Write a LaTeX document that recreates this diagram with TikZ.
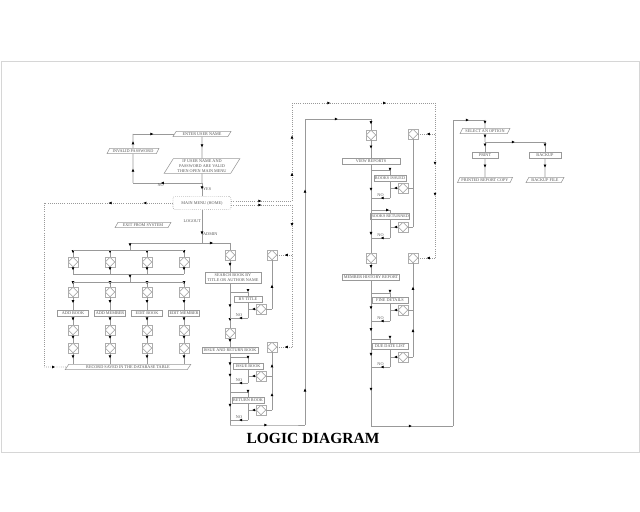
\documentclass[tikz,border=0pt]{standalone}
\usepackage{fontspec}
\setmainfont{Liberation Serif}
\usepackage{tikz}
\usetikzlibrary{arrows.meta,positioning,shapes.geometric,decorations.markings}
\definecolor{linegray}{HTML}{999999}
\definecolor{framegray}{HTML}{D6D6D6}
\definecolor{textgray}{HTML}{555555}
\newcommand{\diagfont}{\fontsize{3}{3.5}\selectfont}

\begin{document}
\begin{tikzpicture}[x=0.025cm, y=-0.025cm,
  ln/.style={draw=linegray, line width=0.45pt},
  dln/.style={draw=linegray, line width=0.5pt, densely dotted},
  mid/.style={postaction={decorate, decoration={markings, mark=at position #1 with {\arrow[black]{Latex[length=2.3pt, width=2.1pt]}}}}},
  mid/.default=0.5,
  lbl/.style={font=\diagfont, text=textgray, inner sep=0.6pt},
  proc/.style={draw=linegray, fill=white, font=\diagfont, text=textgray, align=center, inner sep=0.6pt, minimum height=0.16cm},
  io/.style={draw=linegray, fill=white, trapezium, trapezium left angle=60, trapezium right angle=120, trapezium stretches=true, font=\diagfont, text=textgray, align=center, inner sep=0.5pt, minimum height=0.13cm},
  conn/.style={draw=linegray!80, fill=white, minimum size=0.24cm, inner sep=0pt,
    path picture={\draw[linegray] (path picture bounding box.north) -- (path picture bounding box.east) -- (path picture bounding box.south) -- (path picture bounding box.west) -- cycle;}},
  menubox/.style={draw=linegray, densely dotted, rounded corners=1.5pt, fill=white, font=\diagfont, text=textgray, minimum width=1.45cm, minimum height=0.22cm}
]
  \useasboundingbox (0,0) rectangle (640,512);
  \draw[framegray, line width=0.7pt] (1,61) rectangle (639,452);

  % login
  \node[io, minimum width=1.45cm] (uid) at (202,134) {ENTER USER NAME};
  \node[io, minimum width=1.9cm, minimum height=0.37cm] (chk) at (202,166) {IF USER NAME AND\\PASSWORD ARE VALID\\THEN OPEN MAIN MENU};
  \node[io, minimum width=1.3cm] (bad) at (133,151) {INVALID PASSWORD};
  \node[menubox] (menu) at (202,203) {MAIN MENU (HOME)};
  \node[io, minimum width=1.4cm] (quit) at (143,225) {EXIT FROM SYSTEM};
  \coordinate (c1) at (202,183);
  \coordinate (c2) at (133,183);
  \coordinate (c3) at (133,134);
  \draw[ln, mid] (uid) -- (chk);
  \draw[ln] (chk) -- (c1);
  \draw[ln, mid=0.6] (c1) -- node[lbl, pos=0.6, below] {NO} (c2);
  \draw[ln, mid] (c2) -- (bad);
  \draw[ln, mid] (bad) -- (c3);
  \draw[ln, mid] (c3) -- (uid);
  \draw[ln, mid] (c1) -- node[lbl, right] {YES} (menu);

  % dotted links
  \coordinate (d0) at (44,203);
  \coordinate (d9) at (44,367);
  \coordinate (e1) at (292,201);
  \coordinate (e2) at (292,205);
  \coordinate (e3) at (292,103);
  \coordinate (e4) at (435,103);
  \coordinate (e5) at (435,258);
  \coordinate (e6) at (292,347);

  % left grid
  \node[io, minimum width=3.15cm] (save) at (128,367) {RECORD SAVED IN THE DATABASE TABLE};
  \coordinate (g0) at (202,243);
  \coordinate (g1) at (130,243);
  \coordinate (g2) at (130,250);
  \coordinate (g3) at (130,274);
  \coordinate (g4) at (130,282);
  \foreach \i/\x/\txt in {1/73/ADD BOOK, 2/110/ADD MEMBER, 3/147/EDIT BOOK, 4/184/EDIT MEMBER} {
    \node[conn] (a\i) at (\x,262) {};
    \node[conn] (b\i) at (\x,292) {};
    \node[proc, minimum width=0.78cm] (p\i) at (\x,313) {\txt};
    \node[conn] (c\i) at (\x,330) {};
    \node[conn] (d\i) at (\x,348) {};
    \draw[ln, mid] (a\i |- g2) -- (a\i);
    \draw[ln, mid] (a\i) -- (a\i |- g3);
    \draw[ln, mid] (b\i |- g4) -- (b\i);
    \draw[ln, mid] (b\i) -- (p\i);
    \draw[ln, mid] (p\i) -- (c\i);
    \draw[ln, mid] (c\i) -- (d\i);
    \draw[ln, mid] (d\i) -- (d\i |- save.north);
  }
  \draw[ln] (a1 |- g2) -- (a4 |- g2);
  \draw[ln] (a1 |- g3) -- (a4 |- g3);
  \draw[ln, mid] (g3) -- (g4);
  \draw[ln] (a1 |- g4) -- (a4 |- g4);

  % search and issue
  \node[conn] (m0) at (230,255) {};
  \node[proc, minimum width=1.4cm, minimum height=0.27cm] (srch) at (233,278) {SEARCH BOOK BY\\TITLE OR AUTHOR NAME};
  \node[proc, minimum width=0.7cm] (ma) at (248,299) {BY TITLE};
  \node[conn] (sa) at (261,309) {};
  \node[conn] (m1) at (230,333) {};
  \node[proc, minimum width=1.4cm] (iss) at (230,350) {ISSUE AND RETURN BOOK};
  \node[proc, minimum width=0.75cm] (mb) at (248,366) {ISSUE BOOK};
  \node[conn] (sb) at (261,376) {};
  \node[proc, minimum width=0.75cm] (mc) at (248,400) {RETURN BOOK};
  \node[conn] (sc) at (261,410) {};
  \node[conn] (m2) at (272,255) {};
  \node[conn] (m3) at (272,347) {};
  \coordinate (ka1) at (230,292);
  \coordinate (ka2) at (248,318);
  \coordinate (kb1) at (230,357);
  \coordinate (kb2) at (248,383);
  \coordinate (kc1) at (230,392);
  \coordinate (kc2) at (248,420);
  \coordinate (mz) at (230,425);

  % reports
  \node[conn] (r0) at (371,135) {};
  \node[proc, minimum width=1.45cm] (rep) at (371,161) {VIEW REPORTS};
  \node[proc, minimum width=0.8cm] (ra) at (390,178) {BOOKS ISSUED};
  \node[conn] (rsa) at (403,188) {};
  \node[proc, minimum width=0.8cm] (rb) at (390,216) {BOOKS RETURNED};
  \node[conn] (rsb) at (403,227) {};
  \node[conn] (r1) at (413,134) {};
  \node[conn] (r2) at (371,258) {};
  \node[conn] (r3) at (413,258) {};
  \node[proc, minimum width=1.42cm] (hist) at (371,277) {MEMBER HISTORY REPORT};
  \node[proc, minimum width=0.9cm] (rc) at (390,300) {FINE DETAILS};
  \node[conn] (rsc) at (403,310) {};
  \node[proc, minimum width=0.9cm] (rd) at (390,346) {DUE DATE LIST};
  \node[conn] (rsd) at (403,357) {};
  \coordinate (ja1) at (371,170);
  \coordinate (ja2) at (390,198);
  \coordinate (jb1) at (371,210);
  \coordinate (jb2) at (390,238);
  \coordinate (jc1) at (371,293);
  \coordinate (jc2) at (390,321);
  \coordinate (jd1) at (371,339);
  \coordinate (jd2) at (390,367);
  \coordinate (rz) at (371,426);

  % output options
  \node[io, minimum width=1.25cm] (sel) at (485,131) {SELECT AN OPTION};
  \node[proc, minimum width=0.65cm] (opt1) at (485,155) {PRINT};
  \node[proc, minimum width=0.8cm] (opt2) at (545,155) {BACKUP};
  \node[io, minimum width=1.38cm] (out1) at (485,180) {PRINTED REPORT COPY};
  \node[io, minimum width=0.95cm] (out2) at (545,180) {BACKUP FILE};
  \coordinate (qz) at (453,426);
  \coordinate (qt) at (453,120);
  \coordinate (st) at (485,120);
  \coordinate (sj) at (485,142);
  \coordinate (sk) at (545,142);

  \node[font=\fontsize{11}{13}\selectfont\bfseries] (ttl) at (313,438) {LOGIC DIAGRAM};

  % menu branches
  \draw[ln, mid=0.75] (menu) -- node[lbl, pos=0.35, left] {LOGOUT} node[lbl, pos=0.72, right] {ADMIN} (g0);
  \draw[ln] (g0) -- (g1);
  \draw[ln, mid] (g1) -- (g2);
  \draw[ln, mid=0.4] (g0) -- (g0 -| m0);
  \draw[ln] (g0 -| m0) -- (m0);
  \draw[dln, mid=0.23, mid=0.5] (menu) -- (d0);
  \draw[dln] (d0) -- (d9);
  \draw[dln, mid] (d9) -- (save);
  \draw[dln, mid] (menu.east |- e1) -- (e1);
  \draw[dln, mid] (menu.east |- e2) -- (e2);
  \draw[dln, mid=0.29, mid=0.67] (e1) -- (e3);
  \draw[dln, mid=0.27, mid=0.66] (e3) -- (e4);
  \draw[dln, mid=0.4, mid=0.6] (e4) -- (e5);
  \draw[dln, mid] (e4 |- r1) -- (r1);
  \draw[dln, mid] (e5) -- (r3);
  \draw[dln, mid=0.15] (e2) -- (e6);
  \draw[dln, mid] (e2 |- m2) -- (m2);
  \draw[dln, mid] (e6) -- (m3);

  % search and issue column
  \draw[ln, mid] (m0) -- (m0 |- srch.north);
  \draw[ln, mid=0.54, mid=0.85] (m0 |- srch.south) -- (m1);
  \draw[ln, mid] (m1) -- (m1 |- iss.north);
  \draw[ln, mid=0.17, mid=0.33, mid=0.75] (m1 |- iss.south) -- (mz);
  \draw[ln, mid=0.85] (ka1) -| (ma);
  \draw[ln] (ma) -- (ka2);
  \draw[ln, mid] (ka2) -- node[lbl, above] {NO} (ka2 -| m0);
  \draw[ln, mid] (sa) -- (sa -| ma);
  \draw[ln, mid=0.85] (kb1) -| (mb);
  \draw[ln] (mb) -- (kb2);
  \draw[ln, mid] (kb2) -- node[lbl, above] {NO} (kb2 -| m0);
  \draw[ln, mid] (sb) -- (sb -| mb);
  \draw[ln, mid=0.85] (kc1) -| (mc);
  \draw[ln] (mc) -- (kc2);
  \draw[ln, mid] (kc2) -- node[lbl, above] {NO} (kc2 -| m0);
  \draw[ln, mid] (sc) -- (sc -| mc);
  \draw[ln, mid] (sa -| m2) -- (m2);
  \draw[ln] (sa -| m2) -- (sa);
  \draw[ln, mid] (sb -| m3) -- (m3);
  \draw[ln, mid] (sc -| m3) -- (sb -| m3);
  \draw[ln] (sb -| m3) -- (sb);
  \draw[ln] (sc -| m3) -- (sc);
  \draw[ln, mid] (mz) -- (mz -| e6) -- (305,425);
  \draw[ln, mid=0.12, mid=0.77] (305,425) -- (305,119);
  \draw[ln, mid] (305,119) -- (r0 |- 305,119);
  \draw[ln, mid] (r0 |- 305,119) -- (r0);

  % reports column
  \draw[ln, mid] (r0) -- (rep);
  \draw[ln, mid=0.3, mid=0.8] (rep) -- (r2);
  \draw[ln, mid] (r2) -- (hist);
  \draw[ln, mid=0.2, mid=0.35, mid=0.52, mid=0.76] (hist) -- (rz);
  \draw[ln, mid=0.85] (ja1) -| (ra);
  \draw[ln] (ra) -- (ja2);
  \draw[ln, mid] (ja2) -- node[lbl, above] {NO} (ja2 -| r0);
  \draw[ln, mid] (rsa) -- (rsa -| ra);
  \draw[ln, mid=0.85] (jb1) -| (rb);
  \draw[ln] (rb) -- (jb2);
  \draw[ln, mid] (jb2) -- node[lbl, above] {NO} (jb2 -| r0);
  \draw[ln, mid] (rsb) -- (rsb -| rb);
  \draw[ln, mid=0.85] (jc1) -| (rc);
  \draw[ln] (rc) -- (jc2);
  \draw[ln, mid] (jc2) -- node[lbl, above] {NO} (jc2 -| r0);
  \draw[ln, mid] (rsc) -- (rsc -| rc);
  \draw[ln, mid=0.85] (jd1) -| (rd);
  \draw[ln] (rd) -- (jd2);
  \draw[ln, mid] (jd2) -- node[lbl, above] {NO} (jd2 -| r0);
  \draw[ln, mid] (rsd) -- (rsd -| rd);
  \draw[ln] (r1) -- (rsb -| r1);
  \draw[ln] (rsa -| r1) -- (rsa);
  \draw[ln] (rsb -| r1) -- (rsb);
  \draw[ln, mid=0.3, mid=0.75] (rsd -| r3) -- (r3);
  \draw[ln] (rsc -| r3) -- (rsc);
  \draw[ln] (rsd -| r3) -- (rsd);

  % output options
  \draw[ln, mid] (rz) -- (qz);
  \draw[ln] (qz) -- (qt);
  \draw[ln, mid] (qt) -- (st);
  \draw[ln, mid] (st) -- (sel);
  \draw[ln, mid] (sel) -- (sj);
  \draw[ln, mid] (sj) -- (sk);
  \draw[ln, mid] (sj) -- (opt1);
  \draw[ln, mid] (sk) -- (opt2);
  \draw[ln, mid] (opt1) -- (out1);
  \draw[ln, mid] (opt2) -- (out2);
\end{tikzpicture}
\end{document}
